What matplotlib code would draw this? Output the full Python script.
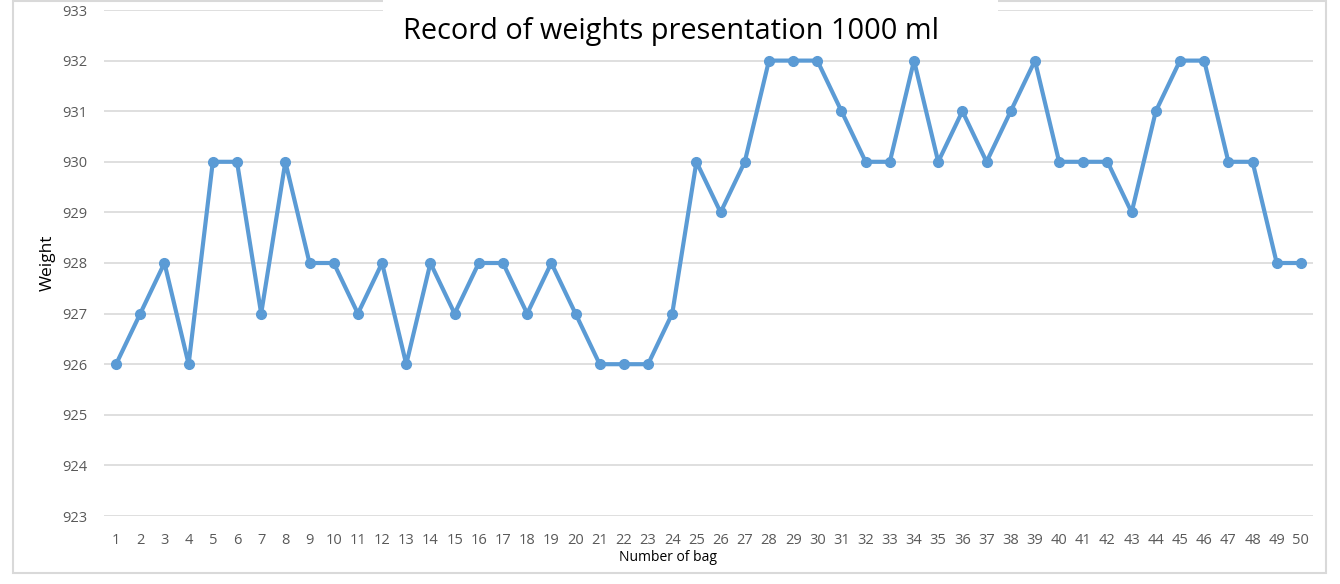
from matplotlib import pyplot as plt
from matplotlib.patches import Rectangle

# Datos
bolsas = list(range(1, 51))
pesos = [926, 927, 928, 926, 930, 930, 927, 930, 928, 928,
         927, 928, 926, 928, 927, 928, 928, 927, 928, 927,
         926, 926, 926, 927, 930, 929, 930, 932, 932, 932,
         931, 930, 930, 932, 930, 931, 930, 931, 932, 930,
         930, 930, 929, 931, 932, 932, 930, 930, 928, 928]
marcas_y = list(range(923, 934))

plt.rcParams['font.family'] = ['Open Sans', 'DejaVu Sans']

W, H = 1340, 584
fig = plt.figure(figsize=(W / 100, H / 100), dpi=100)
ax = fig.add_axes([104 / W, 1 - 516 / H, (1313 - 104) / W, (516 - 10) / H])

ax.plot(bolsas, pesos, color='#5B9BD5', linewidth=3, marker='o', markersize=7,
        zorder=3, clip_on=False)

ax.set_xlim(0.5, 50.5)
ax.set_ylim(923, 933)
ax.set_yticks(marcas_y)
ax.set_xticks(bolsas)
ax.grid(axis='y', color='#D9D9D9', linewidth=1.2)
ax.set_axisbelow(True)
for s in ax.spines.values():
    s.set_visible(False)
ax.tick_params(length=0, labelsize=10.5, labelcolor='#595959')
ax.tick_params(axis='x', pad=12)
ax.tick_params(axis='y', pad=12)

ax.set_ylabel('Weight', fontsize=12.5, color='black')
ax.yaxis.set_label_coords((56 - 104) / (1313 - 104), 0.5)
ax.set_xlabel('Number of bag', fontsize=10, color='black')
ax.xaxis.set_label_coords((668 - 104) / (1313 - 104), -(550 - 516) / (516 - 10))

# Borde del grafico
fig.patches.append(Rectangle((13 / W, 1 - 573 / H), (1326 - 13) / W, (573 - 1) / H,
                             transform=fig.transFigure, fill=False,
                             edgecolor='#D9D9D9', linewidth=1.5))
# Caja blanca del titulo
fig.patches.append(Rectangle((383 / W, 1 - 50 / H), (998 - 383) / W, 52 / H,
                             transform=fig.transFigure, facecolor='white',
                             edgecolor='none', zorder=2))
fig.text(671 / W, 1 - 32 / H, 'Record of weights presentation 1000 ml',
         ha='center', va='center', fontsize=20.8, color='black', zorder=3)

plt.savefig('out.png', dpi=100)
